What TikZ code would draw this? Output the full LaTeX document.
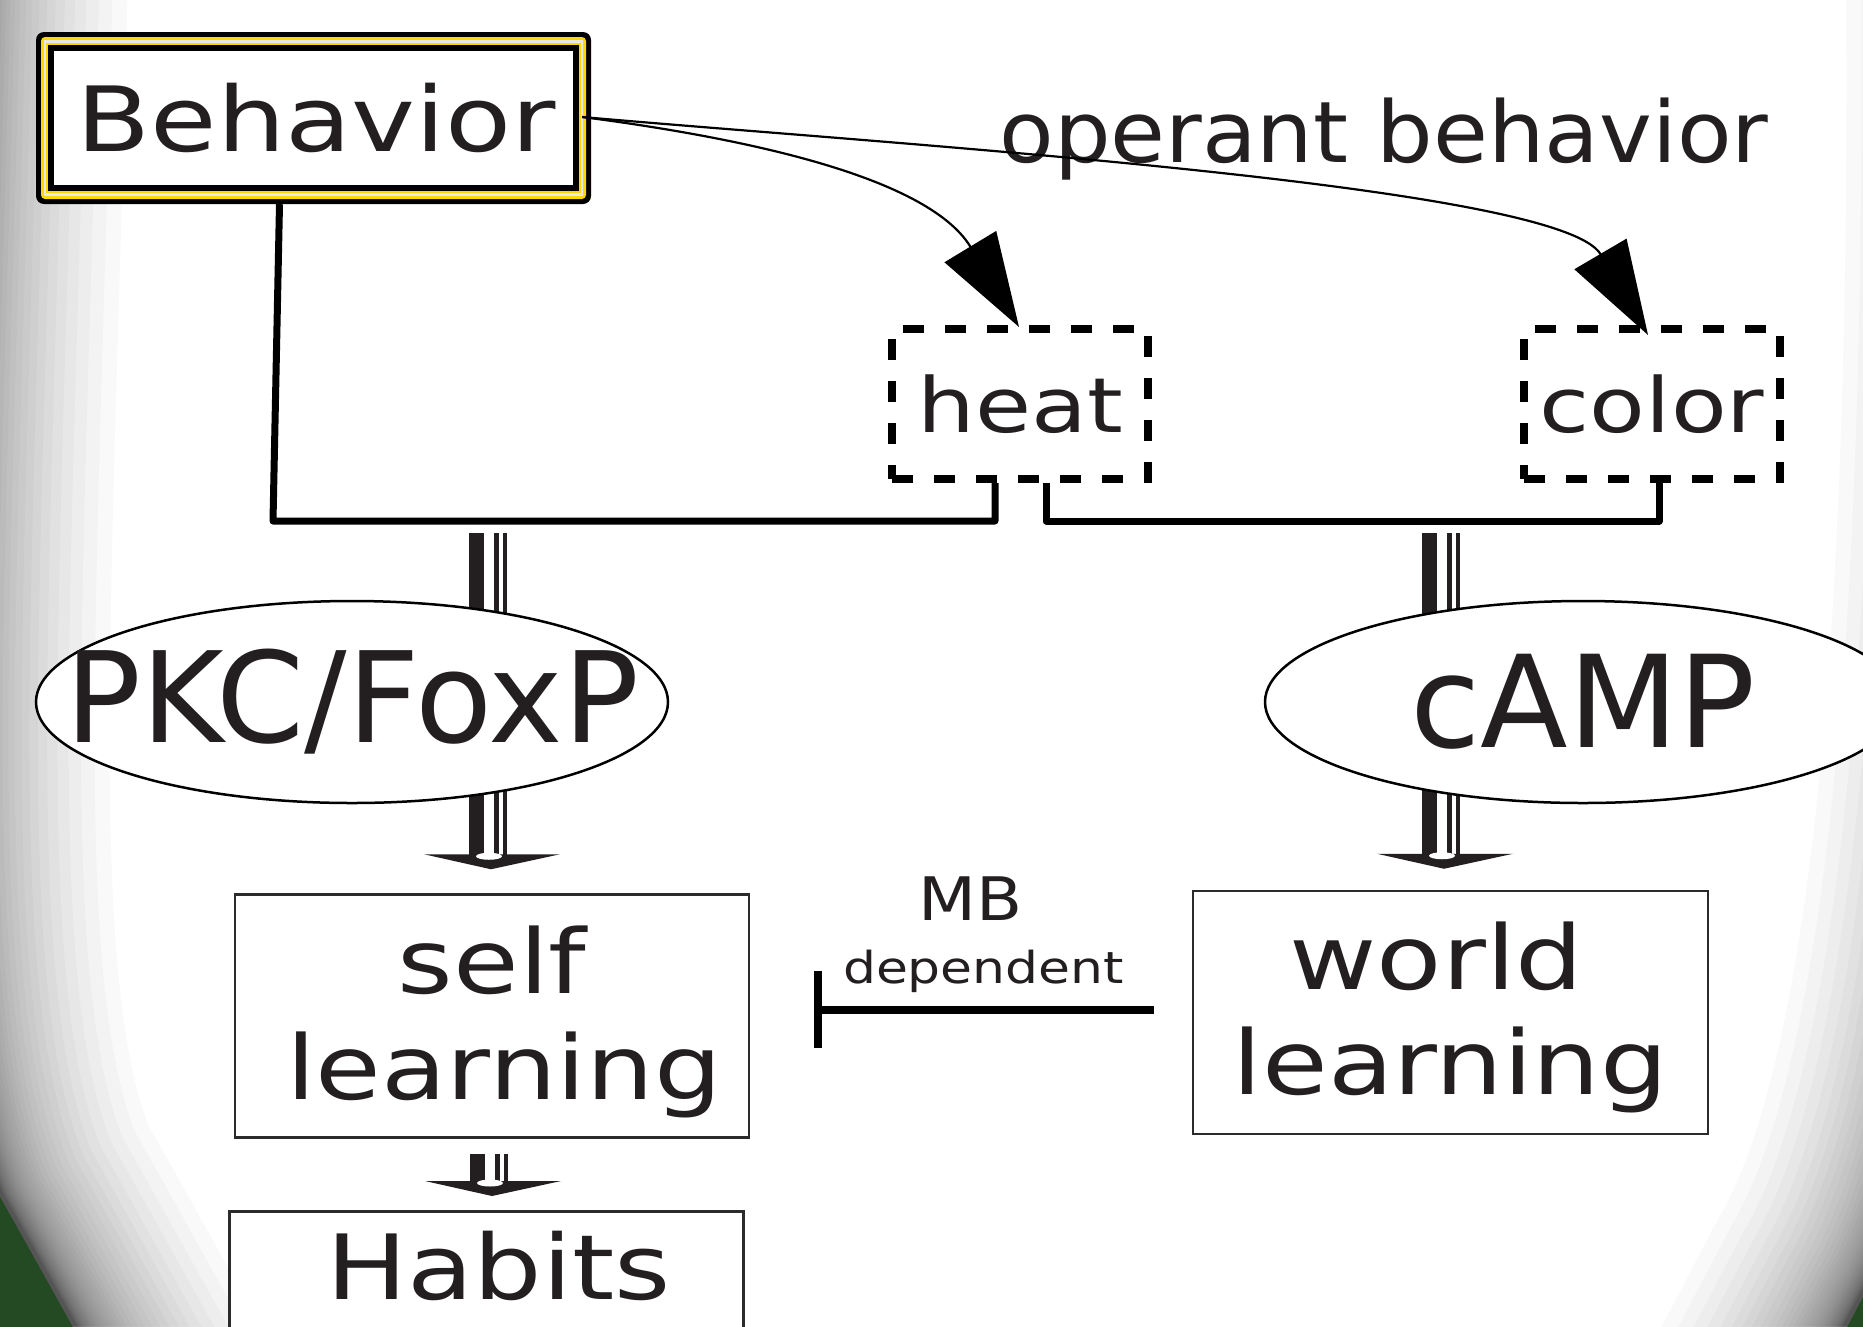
\documentclass[tikz,border=0pt]{standalone}
\usepackage{fontspec}
\setmainfont{DejaVu Sans}
\usetikzlibrary{arrows.meta,calc,shapes.geometric}
\definecolor{txt}{HTML}{231F20}
\definecolor{bggreen}{HTML}{234A22}
\definecolor{signyellow}{HTML}{FFD800}
\definecolor{boxc}{HTML}{2B2B2B}
\newcommand{\fsz}[2]{\fontsize{#1pt}{#2pt}\selectfont}
\newcommand{\hs}[2]{\scalebox{#1}[1]{#2}}
\newcommand{\fatarrow}[2]{%
  \fill[txt] let \p1=(#1), \p2=(#2) in (\x2-22pt,\y1) rectangle (\x2-7pt,\y2+13pt);
  \fill[txt] let \p1=(#1), \p2=(#2) in (\x2+3pt,\y1) rectangle (\x2+8pt,\y2+13pt);
  \fill[txt] let \p1=(#1), \p2=(#2) in (\x2+12pt,\y1) rectangle (\x2+16pt,\y2+13pt);
  \fill[txt] let \p2=(#2) in (\x2-67pt,\y2+15pt) -- (\x2+69pt,\y2+15pt) -- (\x2,\y2) -- cycle;
  \fill[white] let \p2=(#2) in (\x2-2pt,\y2+13pt) ellipse [x radius=13pt, y radius=3.5pt];
}
\begin{document}
\begin{tikzpicture}[x=1pt,y=-1pt,
  every node/.style={text=txt},
  plainbox/.style={draw=boxc, line width=2.5pt, fill=white, inner sep=0pt, align=center},
  dashbox/.style={draw=black, line width=8pt, dash pattern=on 21pt off 21pt, inner sep=0pt, minimum width=256pt, minimum height=150pt},
  bracket/.style={line width=7pt, line join=round},
  curvearrow/.style={line width=2.2pt, -{Triangle[length=94pt,width=60pt]}},
  inhib/.style={line width=8pt, -{Bar[width=77pt]}},
  oval/.style={ellipse, draw=black, line width=2.5pt, fill=white, inner sep=0pt, minimum height=202pt},
]
\useasboundingbox (0,0) rectangle (1863,1326);
\clip (0,0) rectangle (1863,1326);
\fill[white] (0,0) rectangle (1863,1326);
% soft shadow of the slide background
\foreach \i in {0,...,39} {
  \pgfmathsetmacro\w{8*1.1^\i}
  \draw[line width=\w pt, opacity=0.022] (-30,-400) -- (-35,-100) .. controls (-50,600) and (-85,1000) .. (0,1197) .. controls (30,1250) and (55,1295) .. (80,1340) -- (200,1553);
  \draw[line width=\w pt, opacity=0.022] (2010,-400) -- (2010,-100) .. controls (2020,750) and (1960,1130) .. (1863,1297) .. controls (1853,1316) and (1843,1335) .. (1833,1354) -- (1723,1564);
}
\fill[bggreen] (-300,-400) -- (-30,-400) -- (-35,-100) .. controls (-50,600) and (-85,1000) .. (0,1197) .. controls (30,1250) and (55,1295) .. (80,1340) -- (200,1553) -- (-300,1553) -- cycle;
\fill[bggreen] (2200,-400) -- (2010,-400) -- (2010,-100) .. controls (2020,750) and (1960,1130) .. (1863,1297) .. controls (1853,1316) and (1843,1335) .. (1833,1354) -- (1723,1564) -- (2200,1564) -- cycle;

% Behavior sign
\fill[black, rounded corners=8pt] (36,32) rectangle (591,204);
\fill[signyellow, rounded corners=4pt] (41,37) rectangle (586,199);
\fill[black!9] (44,40) rectangle (583,196);
\fill[signyellow] (46,43) rectangle (581,193);
\fill[black] (48,45) rectangle (579,191);
\fill[white] (54,51) rectangle (573,185);
\node[minimum width=555pt, minimum height=172pt, inner sep=0pt] (beh) at (313.5,118) {\fsz{90}{108}\hspace*{6pt}\hs{1.2}{Behavior}};

\node[anchor=base] (op) at (1384,162) {\fsz{85}{100}\hs{1.05}{operant behavior}};

\node[dashbox] (heat) at (1020,404) {\fsz{76}{90}\hs{1.2}{heat}};
\node[dashbox] (color) at (1652,404) {\fsz{76}{90}\hs{1.2}{color}};

\draw[curvearrow] ($(beh.east)+(-9,-1)$) .. controls (760,140) and (930,180) .. ($(heat.north)+(-1,2)$);
\draw[curvearrow] ($(beh.east)+(-9,-1)$) .. controls (900,145) and (1560,185) .. ($(color.north)+(-4,10)$);

\coordinate (bendL) at (273,521);
\draw[bracket] ($(beh.south)+(-34,0)$) -- (bendL) -| ($(heat.south)+(-25,0)$);
\draw[bracket] ($(heat.south)+(26,0)$) -- ++(0,38) -| ($(color.south)+(7,0)$);

% boxes
\node[plainbox, font=\fsz{89}{106}, minimum width=514pt, minimum height=243pt] (self) at (492,1016)
  {\rule{0pt}{80pt}\hs{1.2}{self}\\\hspace*{24pt}\hs{1.2}{learning}};
\node[plainbox, font=\fsz{89}{105}, minimum width=515pt, minimum height=243pt] (world) at (1450.5,1012.5)
  {\rule{0pt}{77pt}\hs{1.2}{world}\hspace*{28pt}\\\hs{1.2}{learning}};
\node[plainbox, font=\fsz{90}{108}, anchor=north, minimum width=514pt, inner ysep=20pt, text depth=200pt] (habits) at (486.5,1210)
  {\hspace*{24pt}\hs{1.2}{Habits}};

% fat arrows
\coordinate (s1top) at (491,533);
\coordinate (s2top) at (1444,533);
\coordinate (s1tip) at ($(self.north)+(-1,-24)$);
\coordinate (s2tip) at ($(world.north)+(-6.5,-21)$);
\coordinate (s3top) at ($(self.south)+(0,15)$);
\coordinate (s3tip) at ($(habits.north)+(5.5,-14)$);
\fatarrow{s1top}{s1tip}
\fatarrow{s2top}{s2tip}
\fatarrow{s3top}{s3tip}

% ellipses on top of the shafts
\node[oval, minimum width=632pt] (pkc) at (352,702) {\fsz{126}{140}\makebox[0pt]{PKC/FoxP}};
\node[oval, minimum width=636pt] (camp) at (1583,702) {\fsz{128}{140}\makebox[0pt]{cAMP}};

% inhibition
\draw[inhib] ($(world.west)+(-38,-3)$) -- ($(self.east)+(64,-6.5)$);
\node[anchor=base] (mb) at (971,920) {\fsz{60}{70}\hs{1.12}{MB}};
\node[anchor=base] (dep) at (983.5,983) {\fsz{44}{52}\hs{1.18}{dependent}};
\end{tikzpicture}
\end{document}
